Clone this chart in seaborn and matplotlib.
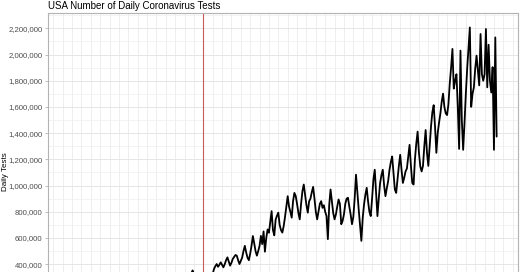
import numpy as np
import pandas as pd
import matplotlib
matplotlib.use("Agg")
import matplotlib.pyplot as plt
import matplotlib.dates as mdates
from matplotlib.ticker import FuncFormatter, MultipleLocator
import seaborn as sns

# ---------------- data ----------------
title = "USA Number of Daily Coronavirus Tests"
y_label = "Daily Tests"
start_date = "2020-03-01"
marker_date = "2020-06-09"

# daily tests, in thousands
tests_k = [
    1, 1, 2, 2, 3, 3, 4, 5, 7, 9, 12, 15, 20, 25,
    35, 45, 60, 70, 85, 95, 105, 110, 95, 100, 115, 125, 130, 120,
    110, 125, 140, 150, 155, 145, 130, 150, 160, 165, 170, 150, 140, 155,
    175, 190, 200, 205, 185, 170, 195, 215, 230, 240, 245, 220, 205, 230,
    255, 270, 280, 285, 260, 240, 265, 290, 300, 310, 305, 280, 265, 290,
    295, 305, 310, 300, 285, 270, 290, 305, 315, 318, 305, 290, 275, 295,
    305, 312, 318, 310, 295, 285, 305, 325, 352, 320, 300, 285, 275, 295,
    305, 312, 316, 308, 295, 285, 300, 312, 318, 325,
    364, 385, 401, 380, 395, 414, 395, 376, 400, 430, 452, 420, 389, 410,
    440, 455, 470, 465, 430, 401, 425, 450, 500, 540, 490, 450, 430, 480,
    540, 615, 560, 500, 465, 500, 540, 616, 553, 650, 495, 600, 665, 640,
    720, 805, 660, 620, 740, 770, 793, 700, 660, 641, 690, 760, 840, 919,
    840, 800, 755, 880, 944, 920, 860, 790, 742, 860, 957, 1008, 930, 850,
    793, 880, 900, 950, 990, 900, 800, 742, 800, 860, 881, 830, 850, 800,
    767, 591, 850, 970, 880, 790, 742, 780, 840, 894, 860, 705, 730, 780,
    860, 900, 907, 840, 780, 705, 760, 900, 1083, 950, 820, 700, 578, 750,
    856, 930, 983, 880, 800, 767, 900, 1046, 1121, 950, 767, 900, 1020, 1080,
    1121, 1000, 919, 980, 1033, 1120, 1180, 1222, 1100, 970, 944, 1050, 1150, 1235,
    1120, 1020, 1060, 1108, 1130, 1220, 1311, 1150, 1020, 1008, 1200, 1320, 1412, 1250,
    1146, 1108, 1150, 1300, 1424, 1250, 1150, 1300, 1450, 1560, 1614, 1450, 1250, 1400,
    1480, 1550, 1640, 1702, 1600, 1551, 1538, 1620, 1780, 1900, 2043, 1740, 1800, 1850,
    1600, 1280, 2030, 1500, 1273, 1475, 1700, 1892, 2050, 2207, 1601, 1700, 1750, 1892,
    1992, 1880, 1765, 2157, 1850, 1800, 1850, 2195, 1750, 2075, 1800, 1710, 1904, 1273,
    2131, 1374,
]

tests = [v * 1000 for v in tests_k]
dates = pd.date_range(start_date, periods=len(tests), freq="D")
df = pd.DataFrame({"date": dates, "tests": tests})

# ---------------- style ----------------
sns.set_theme(style="white")
plt.rcParams["font.family"] = ["Liberation Sans", "DejaVu Sans"]

W, H = 520, 272
fig = plt.figure(figsize=(W / 100, H / 100), dpi=100)

# scales (ggplot-like 5% expansion)
ymin, ymax = min(tests), max(tests)
yr = ymax - ymin
ylo, yhi = ymin - 0.05 * yr, ymax + 0.05 * yr
d0, d1 = dates[0], dates[-1]
span = d1 - d0
xlo, xhi = d0 - 0.05 * span, d1 + 0.05 * span

# layout in pixels: panel top at 13px, 26.2px per 200,000
px_per_val = 26.2 / 200000
panel_h_px = (yhi - ylo) * px_per_val
top_px = 13
left_px, right_px = 48, 518
ax = fig.add_axes([left_px / W, (H - top_px - panel_h_px) / H,
                   (right_px - left_px) / W, panel_h_px / H])

# grid
ax.set_axisbelow(True)
ax.yaxis.set_major_locator(MultipleLocator(200000))
ax.yaxis.set_minor_locator(MultipleLocator(100000))
ax.xaxis.set_major_locator(mdates.WeekdayLocator(byweekday=mdates.TU, interval=1))
ax.grid(which="major", axis="y", color="#e6e6e6", lw=0.7)
ax.grid(which="minor", axis="y", color="#efefef", lw=0.5)
ax.grid(which="major", axis="x", color="#ebebeb", lw=0.6)

sns.lineplot(data=df, x="date", y="tests", color="black", lw=1.3, ax=ax)

ax.axvline(pd.Timestamp(marker_date), color="#c85a5a", lw=0.8)

ax.set_xlim(xlo, xhi)
ax.set_ylim(ylo, yhi)

ax.yaxis.set_major_formatter(FuncFormatter(lambda v, p: f"{v:,.0f}"))
ax.tick_params(axis="y", which="major", length=2.5, width=0.6, color="#b3b3b3",
               labelsize=5.6, labelcolor="#4d4d4d", pad=1.5, left=True)
ax.tick_params(axis="y", which="minor", length=0)
ax.tick_params(axis="x", labelbottom=False, length=0)

for s in ax.spines.values():
    s.set_color("#b3b3b3")
    s.set_linewidth(0.8)

ax.set_xlabel("")
ax.set_ylabel(y_label, fontsize=5.8, color="black")
ax.yaxis.set_label_coords((9 - left_px) / (right_px - left_px), 0.5)

ax.set_title(title, loc="left", fontsize=7, color="black", pad=3)

fig.savefig("out.png", dpi=100)
